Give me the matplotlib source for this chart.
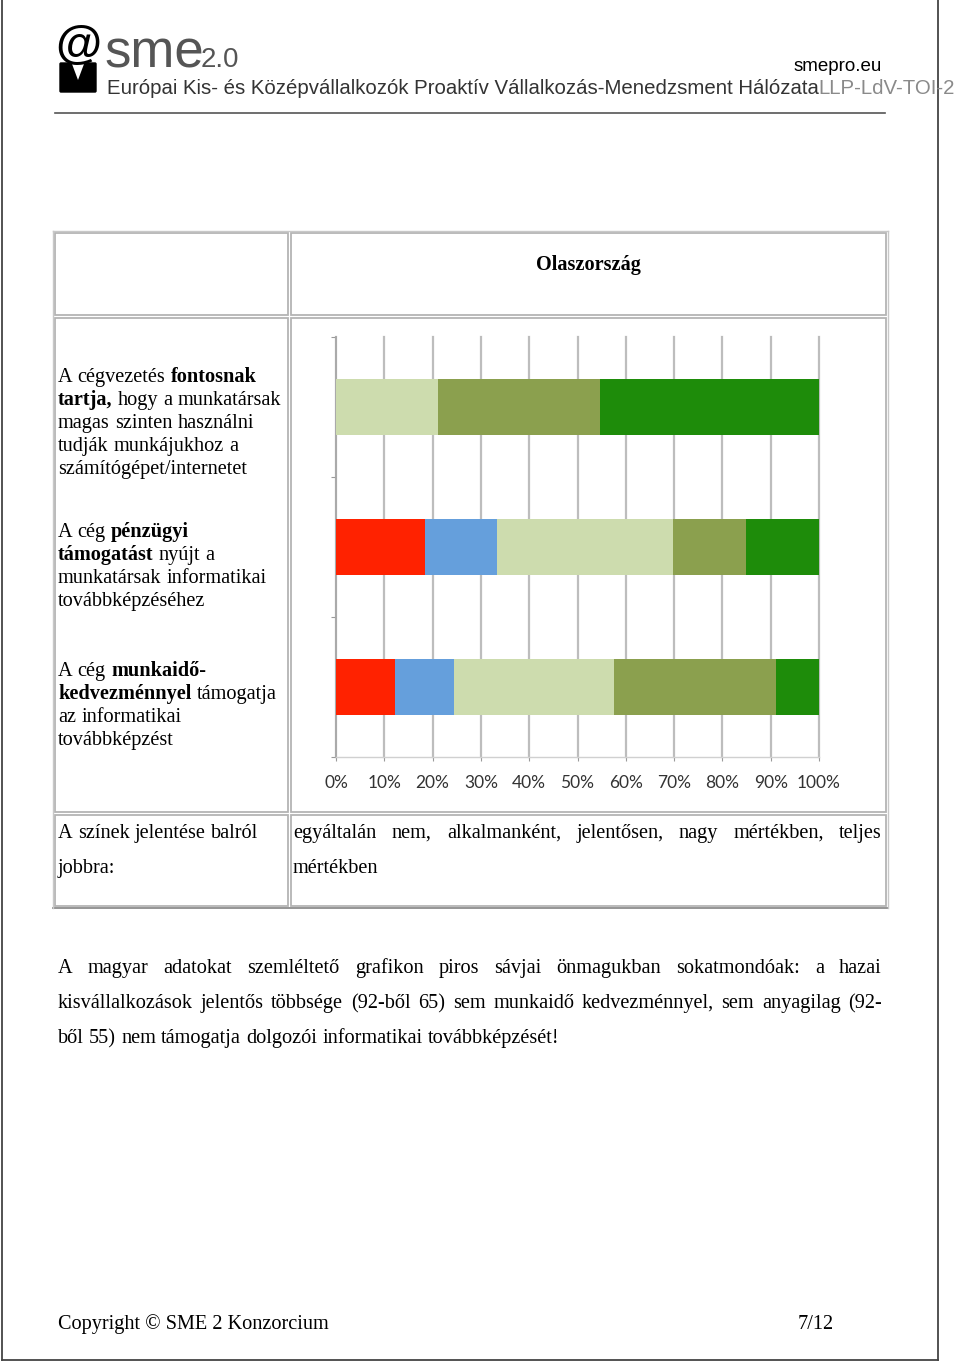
import matplotlib
matplotlib.use('Agg')
import matplotlib.pyplot as plt
import matplotlib.patches as patches

# ---- data ----
categories = ['fontosnak', 'pénzügyi', 'munkaidő']
levels = ['egyáltalán nem', 'alkalmanként', 'jelentősen', 'nagy mértékben', 'teljes mértékben']
level_colors = ['#FF2200', '#659FDC', '#CDDCAE', '#8BA04E', '#1E8C0A']
none_pct = [0.0, 18.5, 12.3]
occasional_pct = [0.0, 14.9, 12.2]
significant_pct = [21.2, 36.3, 33.0]
large_pct = [33.4, 15.1, 33.5]
full_pct = [45.4, 15.2, 9.0]
x_ticks = list(range(0, 101, 10))
x_ticklabels = [f'{v}%' for v in x_ticks]

row_texts = [
    ['A cégvezetés *fontosnak*', '*tartja,* hogy a munkatársak', 'magas szinten használni',
     'tudják munkájukhoz a', 'számítógépet/internetet'],
    ['A cég *pénzügyi*', '*támogatást* nyújt a', 'munkatársak informatikai', 'továbbképzéséhez'],
    ['A cég *munkaidő-*', '*kedvezménnyel* támogatja', 'az informatikai', 'továbbképzést'],
]
paragraph = ['A magyar adatokat szemléltető grafikon piros sávjai önmagukban sokatmondóak: a hazai',
             'kisvállalkozások jelentős többsége (92-ből 65) sem munkaidő kedvezménnyel, sem anyagilag (92-',
             'ből 55) nem támogatja dolgozói informatikai továbbképzését!']

SERIF = 'Liberation Serif'
SANS = 'Liberation Sans'
FS = 14.6

fig = plt.figure(figsize=(9.6, 13.64), dpi=100)
fig.patch.set_facecolor('white')
bg = fig.add_axes([0, 0, 1, 1])
bg.set_xlim(0, 960)
bg.set_ylim(1364, 0)
bg.axis('off')
renderer = fig.canvas.get_renderer()


def width(s, **kw):
    t = bg.text(0, 0, s, **kw)
    w = t.get_window_extent(renderer).width
    t.remove()
    return w


def words_of(line):
    out = []
    for w in line.split(' '):
        if w.startswith('*'):
            out.append((w.strip('*'), 'bold'))
        else:
            out.append((w, 'normal'))
    return out


def draw_line(x, y, line, x1=None, size=FS, family=SERIF, color='black'):
    words = words_of(line)
    ws = [width(w, fontsize=size, family=family, fontweight=b) for w, b in words]
    sp = width('x x', fontsize=size, family=family) - width('xx', fontsize=size, family=family)
    if x1 is not None and len(words) > 1:
        sp = (x1 - x - sum(ws)) / (len(words) - 1)
    for (w, b), wd in zip(words, ws):
        bg.text(x, y, w, fontsize=size, family=family, fontweight=b, color=color, va='baseline')
        x += wd + sp


# ---- page border & header ----
bg.plot([938, 938], [0, 1360], color='#444444', lw=1.3)
bg.plot([1.5, 938], [1360, 1360], color='#444444', lw=1.3)
bg.plot([1.5, 1.5], [0, 1360], color='#444444', lw=1.3)
bg.plot([55, 885], [113, 113], color='#555555', lw=1.2)

# logo
bg.text(78, 47, '@', fontsize=34, family=SANS, fontweight='bold', ha='center', va='center', color='black')
bg.add_patch(patches.FancyBboxPatch((61, 64), 34, 27, boxstyle='round,pad=1', fc='black', ec='black'))
bg.add_patch(patches.Polygon([[72, 64], [84, 64], [78, 80]], closed=True, fc='white', ec='none'))
bg.text(104, 67, 'sme', fontsize=38, family=SANS, color='#555555', va='baseline')
bg.text(201, 67, '2.0', fontsize=20, family=SANS, color='#555555', va='baseline')

bg.text(882, 71, 'smepro.eu', fontsize=13.5, family=SANS, ha='right', va='baseline', color='black')
hdr = 'Európai Kis- és Középvállalkozók Proaktív Vállalkozás-Menedzsment Hálózata'
HFS = 14.7
bg.text(107, 94, hdr, fontsize=HFS, family=SANS, va='baseline', color='#333333')
hx = 107 + width(hdr, fontsize=HFS, family=SANS)
bg.text(hx, 94, 'LLP-LdV-TOI-2', fontsize=HFS, family=SANS, va='baseline', color='#8a8a8a')

# ---- table ----
cells = [(55, 233, 288, 315), (291, 233, 886, 315), (55, 318, 288, 812),
         (291, 318, 886, 812), (55, 815, 288, 906), (291, 815, 886, 906)]
for x0, y0, x1, y1 in cells:
    bg.add_patch(patches.Rectangle((x0, y0), x1 - x0, y1 - y0, fill=False, ec='#B4B4B4', lw=1.3))
bg.plot([53, 888], [908, 908], color='#8c8c8c', lw=1.3)
bg.plot([888, 888], [231, 908], color='#c8c8c8', lw=1.0)
bg.plot([53, 888], [231, 231], color='#c8c8c8', lw=1.0)
bg.plot([53, 53], [231, 908], color='#c8c8c8', lw=1.0)

bg.text(588, 270, 'Olaszország', fontsize=FS, family=SERIF, fontweight='bold', ha='center', va='baseline')

baselines = [[382, 405, 428, 451, 474], [537, 560, 583, 606], [676, 699, 722, 745]]
for lines, ys in zip(row_texts, baselines):
    for line, y in zip(lines, ys):
        draw_line(58, y, line)

draw_line(58, 838, 'A színek jelentése balról')
draw_line(58, 873, 'jobbra:')
legend_words = ', '.join(levels).split(' ')
draw_line(293, 838, ' '.join(legend_words[:-1]), x1=882)
draw_line(293, 873, legend_words[-1])

# ---- paragraph & footer ----
draw_line(58, 973, paragraph[0], x1=882)
draw_line(58, 1008, paragraph[1], x1=882)
draw_line(58, 1043, paragraph[2])
bg.text(58, 1329, 'Copyright © SME 2 Konzorcium', fontsize=FS, family=SERIF, va='baseline')
bg.text(834, 1329, '7/12', fontsize=FS, family=SERIF, va='baseline', ha='right')

# ---- chart ----
ax = fig.add_axes([336 / 960, 1 - 757 / 1364, 483 / 960, 420 / 1364])
ax.set_facecolor('none')
ypos = [2 - i for i in range(len(categories))]
left = [0.0] * len(categories)
for vals, col in zip([none_pct, occasional_pct, significant_pct, large_pct, full_pct], level_colors):
    ax.barh(ypos, vals, left=left, height=0.4, color=col, linewidth=0, zorder=3)
    left = [l + v for l, v in zip(left, vals)]

ax.set_xlim(0, 100)
ax.set_ylim(-0.5, 2.5)
ax.set_xticks(x_ticks)
ax.set_xticklabels(x_ticklabels, family='Lato', fontsize=12.5, color='#333333')
ax.set_yticks([-0.5, 0.5, 1.5, 2.5])
ax.set_yticklabels([])
ax.tick_params(axis='x', length=3, color='#9a9a9a', pad=10, direction='out')
ax.tick_params(axis='y', length=3.5, color='#9a9a9a', direction='out')
ax.grid(axis='x', color='#BDBDBD', lw=1.6, zorder=0)
for gl in ax.get_xgridlines():
    gl.set_clip_on(False)
ax.set_axisbelow(True)
for s in ['top', 'right']:
    ax.spines[s].set_visible(False)
ax.spines['left'].set_color('#A8A8A8')
ax.spines['bottom'].set_color('#D0D0D0')
ax.spines['left'].set_linewidth(1.3)
ax.spines['bottom'].set_linewidth(1.0)

fig.savefig('out.png', dpi=100)
